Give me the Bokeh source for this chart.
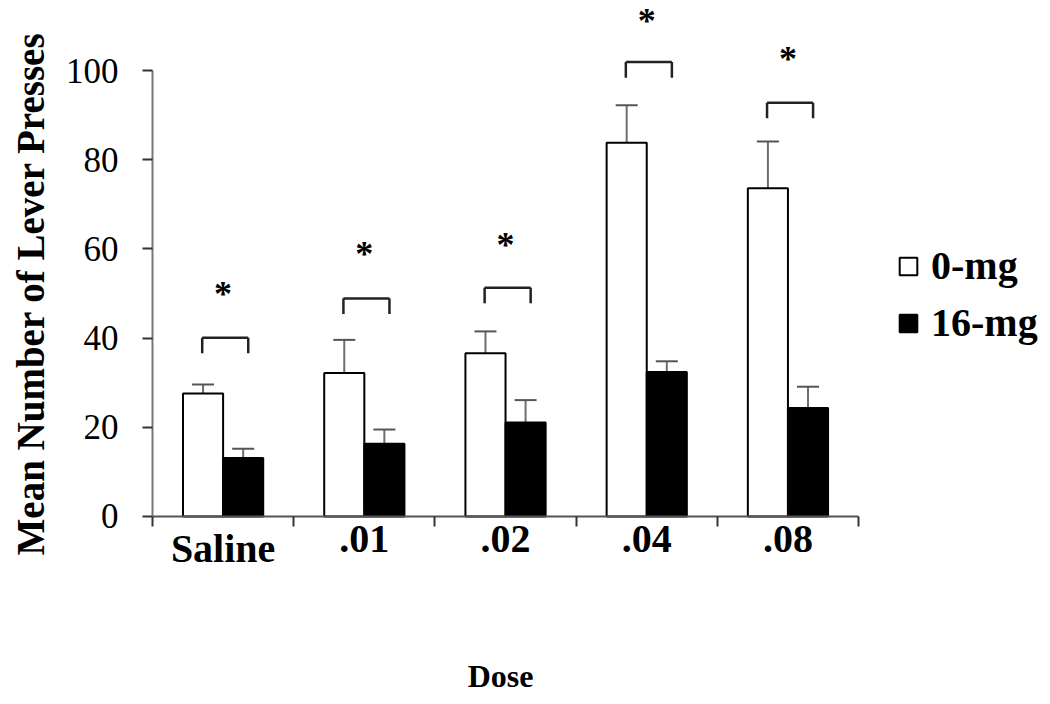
import math
from bokeh.plotting import figure
from bokeh.models import (Range1d, FixedTicker, ColumnDataSource, Whisker, TeeHead,
                          Legend, LegendItem, LabelSet, Label)
from bokeh.embed import file_html
from bokeh.resources import INLINE

doses = ["Saline", ".01", ".02", ".04", ".08"]
mean_0mg = [27.6, 32.2, 36.6, 83.8, 73.6]
err_0mg = [2.0, 7.4, 4.9, 8.4, 10.5]
mean_16mg = [13.1, 16.3, 21.1, 32.4, 24.3]
err_16mg = [2.1, 3.2, 5.0, 2.4, 4.8]
bracket_top = [40.1, 48.9, 51.3, 101.9, 92.8]
bracket_leg = 3.5
star_y = [51.1, 59.9, 62.1, 112.2, 103.8]
y_ticks = [0, 20, 40, 60, 80, 100]
y_tick_labels = ["0", "20", "40", "60", "80", "100"]

SERIF = "Liberation Serif"
BAR_W = 0.284
OFF = 0.142

centers = [i + 0.5 for i in range(len(doses))]
x0 = [c - OFF for c in centers]
x1 = [c + OFF for c in centers]

p = figure(width=1046, height=696, output_backend="svg", toolbar_location=None,
           x_range=Range1d(-0.9915, 6.331), y_range=Range1d(-38.57, 115.7),
           min_border_left=12, min_border_right=0, min_border_top=0,
           min_border_bottom=8)
p.outline_line_color = None
p.xgrid.visible = False
p.ygrid.visible = False
p.background_fill_color = "white"
p.border_fill_color = "white"

s0 = ColumnDataSource(dict(x=x0, top=mean_0mg, upper=[m + e for m, e in zip(mean_0mg, err_0mg)]))
s1 = ColumnDataSource(dict(x=x1, top=mean_16mg, upper=[m + e for m, e in zip(mean_16mg, err_16mg)]))

w0 = Whisker(source=s0, base="x", lower="top", upper="upper", line_color="#6e6e6e", line_width=2,
             upper_head=TeeHead(size=22, line_color="#555555", line_width=2), lower_head=None)
w1 = Whisker(source=s1, base="x", lower="top", upper="upper", line_color="#6e6e6e", line_width=2,
             upper_head=TeeHead(size=22, line_color="#555555", line_width=2), lower_head=None)
p.add_layout(w0)
p.add_layout(w1)

r0 = p.vbar(x="x", top="top", width=BAR_W, bottom=0, source=s0,
            fill_color="white", line_color="black", line_width=2)
r1 = p.vbar(x="x", top="top", width=BAR_W, bottom=0, source=s1,
            fill_color="black", line_color="black", line_width=2)

# significance brackets
bl = [c - 0.148 for c in centers]
br = [c + 0.178 for c in centers]
bot = [t - bracket_leg for t in bracket_top]
p.segment(x0=bl, y0=bracket_top, x1=br, y1=bracket_top, line_color="#222222", line_width=2.5)
p.segment(x0=bl, y0=bot, x1=bl, y1=bracket_top, line_color="#222222", line_width=2.5)
p.segment(x0=br, y0=bot, x1=br, y1=bracket_top, line_color="#222222", line_width=2.5)

star_src = ColumnDataSource(dict(x=centers, y=star_y, t=["*"] * len(doses)))
stars = LabelSet(x="x", y="y", text="t", source=star_src, text_font=SERIF,
                 text_font_style="bold", text_font_size="36px", text_align="center",
                 text_baseline="top", y_offset=15, text_color="black")
p.add_layout(stars)

# y axis drawn at x = 0 (ticks outward)
ya = p.yaxis[0]
ya.fixed_location = 0
ya.bounds = (0, 100)
ya.ticker = FixedTicker(ticks=[], minor_ticks=y_ticks)
ya.major_tick_out = 0
ya.major_tick_in = 0
ya.major_label_standoff = 0
ya.minor_tick_out = 10
ya.minor_tick_in = 0
ya.minor_tick_line_color = "#333333"
ya.minor_tick_line_width = 2
ya.axis_line_color = "#777777"
ya.axis_line_width = 2

ytick_src = ColumnDataSource(dict(x=[0] * len(y_ticks), y=y_ticks, t=y_tick_labels))
ytick_labels = LabelSet(x="x", y="y", text="t", source=ytick_src, text_font=SERIF,
                        text_font_size="35px", text_align="right", text_baseline="middle",
                        x_offset=-34, text_color="black")
p.add_layout(ytick_labels)

# x axis drawn at y = 0; category ticks at the group boundaries
xa = p.xaxis[0]
xa.fixed_location = 0
xa.bounds = (0, 5)
xa.ticker = FixedTicker(ticks=[], minor_ticks=[0, 1, 2, 3, 4, 5])
xa.major_tick_out = 0
xa.major_tick_in = 0
xa.major_label_standoff = 0
xa.minor_tick_out = 10
xa.minor_tick_in = 0
xa.minor_tick_line_color = "#333333"
xa.minor_tick_line_width = 2
xa.axis_line_color = "#555555"
xa.axis_line_width = 2

dose_src = ColumnDataSource(dict(x=centers, y=[0] * len(doses), t=doses))
dose_labels = LabelSet(x="x", y="y", text="t", source=dose_src, text_font=SERIF,
                       text_font_style="bold", text_font_size="40px", text_align="center",
                       text_baseline="top", y_offset=-10, text_color="black")
p.add_layout(dose_labels)

xtitle = Label(x=2.5, y=0, x_offset=-5, y_offset=-142, text="Dose", text_font=SERIF,
               text_font_style="bold", text_font_size="32px", text_align="center",
               text_baseline="top", text_color="black")
p.add_layout(xtitle)

ytitle = Label(x=0, y=0, x_offset=-122, y_offset=-39, angle=math.pi / 2,
               text="Mean Number of Lever Presses", text_font=SERIF,
               text_font_style="bold", text_font_size="39px", text_align="left",
               text_baseline="alphabetic", text_color="black")
p.add_layout(ytitle)

legend = Legend(items=[LegendItem(label="0-mg", renderers=[r0]),
                       LegendItem(label="16-mg", renderers=[r1])],
                location=(885, 342), padding=0, margin=0, spacing=10,
                glyph_width=22, glyph_height=22, label_height=22, label_standoff=12,
                border_line_color=None, background_fill_alpha=0,
                label_text_font=SERIF, label_text_font_style="bold",
                label_text_font_size="40px", label_text_color="black")
p.add_layout(legend)

open("out.html", "w").write(file_html(p, INLINE))
